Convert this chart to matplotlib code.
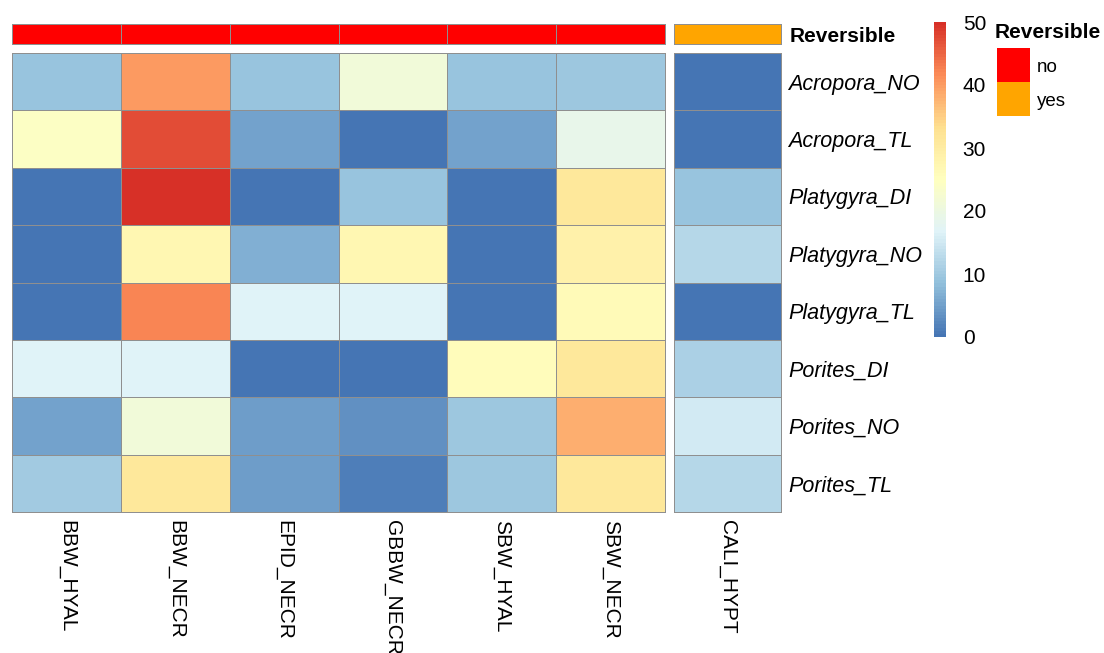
import numpy as np
import matplotlib.pyplot as plt
from matplotlib.colors import LinearSegmentedColormap, ListedColormap
import matplotlib as mpl

plt.rcParams['font.family'] = ['Liberation Sans', 'DejaVu Sans']

# Samples (rows) and lesion types (columns)
samples = ["Acropora_NO", "Acropora_TL", "Platygyra_DI", "Platygyra_NO",
           "Platygyra_TL", "Porites_DI", "Porites_NO", "Porites_TL"]
lesions = ["BBW_HYAL", "BBW_NECR", "EPID_NECR", "GBBW_NECR", "SBW_HYAL", "SBW_NECR"]
lesions_rev = ["CALI_HYPT"]

# Values per lesion, one entry per sample
bbw_hyal = [9, 24, 0, 0, 0, 16.5, 5, 10]
bbw_necr = [40, 47, 50, 27, 42, 16.5, 21, 31]
epid_necr = [9, 5, 0, 6.5, 16.5, 0, 4.5, 4.5]
gbbw_necr = [21, 0, 9, 27, 16.5, 0, 3, 1]
sbw_hyal = [9, 5, 0, 0, 0, 25.5, 9.5, 9.5]
sbw_necr = [9.5, 18.5, 31, 29, 26, 31, 38, 31]
cali_hypt = [0, 0, 9, 12, 0, 11, 15, 12]

# Column annotation
reversible = ["no", "no", "no", "no", "no", "no"]
reversible_rev = ["yes"]
rev_levels = ["no", "yes"]
rev_colors = ["#FF0000", "#FFA500"]

W, H = 1104, 653


def px(x0, y0, x1, y1):
    return [x0 / W, 1 - y1 / H, (x1 - x0) / W, (y1 - y0) / H]


heat_cmap = LinearSegmentedColormap.from_list(
    "rdylbu", ["#4575B4", "#91BFDB", "#E0F3F8", "#FFFFBF",
               "#FEE090", "#FC8D59", "#D73027"], N=100)
ann_cmap = ListedColormap(rev_colors)
norm = mpl.colors.Normalize(vmin=0, vmax=50)
edge = "#8f8f8f"
lw = 0.6

main = np.column_stack([bbw_hyal, bbw_necr, epid_necr, gbbw_necr, sbw_hyal, sbw_necr])
rev = np.column_stack([cali_hypt])

fig = plt.figure(figsize=(W / 100, H / 100), dpi=100)


def heat(ax, data, labels):
    m = ax.pcolormesh(data, cmap=heat_cmap, norm=norm, edgecolors=edge, linewidth=lw)
    m.set_clip_on(False)
    ax.set_xlim(0, data.shape[1])
    ax.set_ylim(data.shape[0], 0)
    ax.set_xticks(np.arange(data.shape[1]) + 0.5)
    ax.set_xticklabels(labels, rotation=270, va="top", ha="center", fontsize=15)
    ax.set_yticks([])
    ax.tick_params(axis="x", length=0, pad=6)
    for s in ax.spines.values():
        s.set_visible(False)


def annot(ax, codes):
    idx = np.array([[rev_levels.index(c) for c in codes]])
    m = ax.pcolormesh(idx, cmap=ann_cmap, vmin=-0.5, vmax=1.5, edgecolors=edge, linewidth=lw)
    m.set_clip_on(False)
    ax.set_xlim(0, len(codes))
    ax.set_ylim(1, 0)
    ax.set_xticks([])
    ax.set_yticks([])
    for s in ax.spines.values():
        s.set_visible(False)


ax1 = fig.add_axes(px(12, 53, 665, 512))
heat(ax1, main, lesions)

ax2 = fig.add_axes(px(674, 53, 781, 512))
heat(ax2, rev, lesions_rev)
ax2.yaxis.tick_right()
ax2.set_yticks(np.arange(len(samples)) + 0.5)
ax2.set_yticklabels(samples, fontsize=15.5, style="italic")
ax2.tick_params(axis="y", length=0, pad=5)

an1 = fig.add_axes(px(12, 24, 665, 44))
annot(an1, reversible)
an2 = fig.add_axes(px(674, 24, 781, 44))
annot(an2, reversible_rev)
an2.yaxis.tick_right()
an2.set_yticks([0.5])
an2.set_yticklabels(["Reversible"], fontsize=15, fontweight="bold")
an2.tick_params(axis="y", length=0, pad=6)

# Colour key
cax = fig.add_axes(px(934, 22, 946, 337))
cb = fig.colorbar(mpl.cm.ScalarMappable(norm=norm, cmap=heat_cmap), cax=cax)
cb.outline.set_visible(False)
cb.set_ticks([0, 10, 20, 30, 40, 50])
cax.tick_params(length=0, labelsize=15, pad=12)

# Annotation legend
lax = fig.add_axes(px(997, 48, 1030, 116))
lax.pcolormesh(np.array([[0], [1]]), cmap=ann_cmap, vmin=-0.5, vmax=1.5)
lax.set_xlim(0, 1)
lax.set_ylim(2, 0)
lax.set_xticks([])
lax.yaxis.tick_right()
lax.set_yticks([0.5, 1.5])
lax.set_yticklabels(rev_levels, fontsize=13.5)
lax.tick_params(axis="y", length=0, pad=5)
for s in lax.spines.values():
    s.set_visible(False)
fig.text(995 / W, 1 - 32 / H, "Reversible", fontsize=15, fontweight="bold",
         ha="left", va="center")

fig.savefig("out.png", dpi=100)
